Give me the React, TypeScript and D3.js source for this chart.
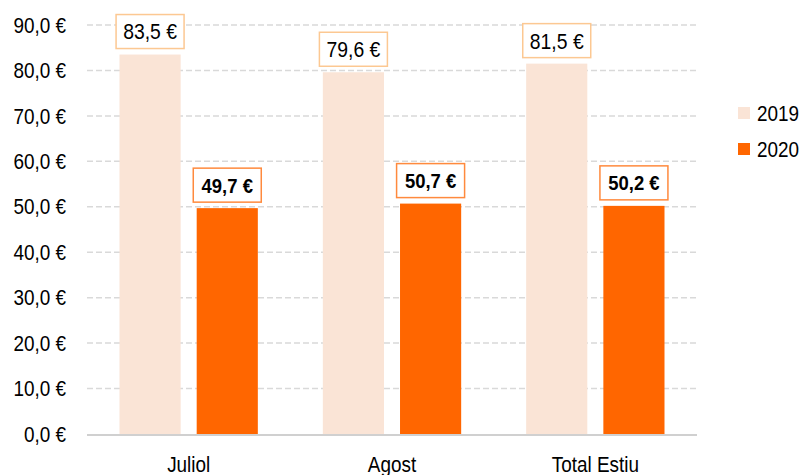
import React from "react";
import * as d3 from "d3";

const categories = ["Juliol", "Agost", "Total Estiu"];
const seriesNames = ["2019", "2020"];
const values2019 = [83.5, 79.6, 81.5];
const values2020 = [49.7, 50.7, 50.2];
const yTicks = [0, 10, 20, 30, 40, 50, 60, 70, 80, 90];

const W = 801;
const H = 475;
const colors: Record<string, string> = { "2019": "#fae4d6", "2020": "#ff6600" };
const boxStroke: Record<string, string> = { "2019": "#fcc892", "2020": "#ff8a3d" };
const FONT = "'Liberation Sans', Arial, sans-serif";
const SX = 0.86;

const fmt = (v: number) => v.toFixed(1).replace(".", ",") + " €";

function T(props: {
  x: number;
  y: number;
  anchor?: "start" | "middle" | "end";
  size: number;
  bold?: boolean;
  sx?: number;
  dy?: string;
  children: React.ReactNode;
}) {
  const { x, y, anchor = "start", size, bold, sx = SX, dy, children } = props;
  return (
    <text
      transform={`translate(${x},${y}) scale(${sx},1)`}
      textAnchor={anchor}
      fontSize={size}
      fontWeight={bold ? "bold" : "normal"}
      dy={dy}
      fill="#000"
    >
      {children}
    </text>
  );
}

export default function App() {
  const y = d3.scaleLinear().domain([0, 90]).range([434, 25]);
  const x0 = d3.scaleBand<string>().domain(categories).range([87, 697]).paddingInner(0).paddingOuter(0);
  const x1 = d3
    .scaleBand<string>()
    .domain(seriesNames)
    .range([32.5, x0.bandwidth() - 32.5])
    .paddingInner(16 / 77)
    .paddingOuter(0);

  const series = [
    { name: "2019", values: values2019 },
    { name: "2020", values: values2020 },
  ];

  const [xMin, xMax] = x0.range();

  return (
    <svg width={W} height={H} style={{ position: "absolute", left: 0, top: 0, background: "#fff" }} fontFamily={FONT}>
      {yTicks.filter((t) => t > 0).map((t) => (
        <line
          key={t}
          x1={xMin}
          x2={xMax}
          y1={y(t)}
          y2={y(t)}
          stroke="#d9d9d9"
          strokeWidth={1.5}
          strokeDasharray="6,3"
        />
      ))}
      {yTicks.map((t) => (
        <T key={t} x={66} y={y(t)} dy="0.35em" anchor="end" size={22}>
          {fmt(t)}
        </T>
      ))}
      {series.map((s) =>
        s.values.map((v, i) => {
          const bx = (x0(categories[i]) as number) + (x1(s.name) as number);
          const bw = x1.bandwidth();
          return (
            <rect key={s.name + i} x={bx} y={y(v)} width={bw} height={y(0) - y(v)} fill={colors[s.name]} />
          );
        })
      )}
      <line x1={xMin} x2={xMax} y1={y(0) + 1} y2={y(0) + 1} stroke="#d0d0d0" strokeWidth={2} />
      {series.map((s) =>
        s.values.map((v, i) => {
          const cx = (x0(categories[i]) as number) + (x1(s.name) as number) + x1.bandwidth() / 2;
          const bh = 34;
          const bwid = 68;
          const bottom = y(v) - 6;
          const bold = s.name === "2020";
          return (
            <g key={"l" + s.name + i}>
              <rect
                x={cx - bwid / 2}
                y={bottom - bh}
                width={bwid}
                height={bh}
                fill="#fff"
                stroke={boxStroke[s.name]}
                strokeWidth={1.5}
              />
              <T x={cx} y={bottom - bh / 2} dy="0.36em" anchor="middle" size={bold ? 21 : 22} bold={bold} sx={bold ? 0.88 : 0.88}>
                {fmt(v)}
              </T>
            </g>
          );
        })
      )}
      {categories.map((c) => (
        <T key={c} x={(x0(c) as number) + x0.bandwidth() / 2} y={472} anchor="middle" size={22}>
          {c}
        </T>
      ))}
      {seriesNames.map((n, i) => (
        <g key={n} transform={`translate(738, ${107 + i * 36})`}>
          <rect x={0} y={0} width={12} height={12} fill={colors[n]} />
          <T x={19} y={6} dy="0.36em" size={22}>
            {n}
          </T>
        </g>
      ))}
    </svg>
  );
}
